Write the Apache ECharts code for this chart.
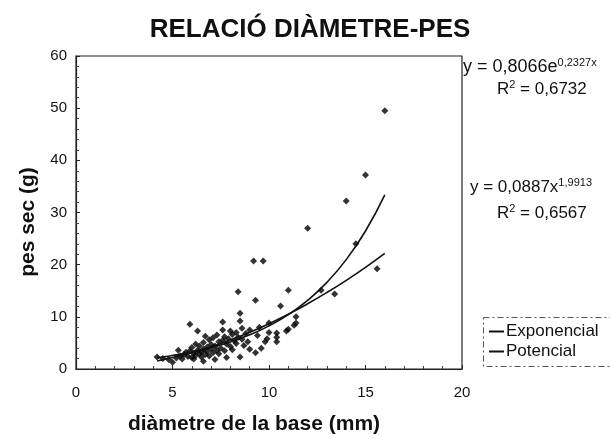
<!DOCTYPE html>
<html>
<head>
<meta charset="utf-8">
<script src="https://cdn.jsdelivr.net/npm/echarts@6/dist/echarts.min.js"></script>
<style>
  html, body { margin: 0; padding: 0; background: #fff; }
  #chart { width: 610px; height: 439px; }
</style>
</head>
<body>
<div id="chart"></div>
<script>
// mesures: [diàmetre (mm), pes sec (g)]
var punts = [
  [4.2,2.3],[4.5,2.0],[4.8,1.8],[5.0,1.3],[5.2,2.1],[5.3,3.6],[5.4,2.5],[5.5,1.9],
  [5.6,2.8],[5.7,3.2],[5.8,2.4],[5.9,8.6],[5.9,3.5],[6.0,2.2],[6.0,4.1],[6.1,3.0],
  [6.1,1.9],[6.2,2.6],[6.2,4.8],[6.3,7.3],[6.3,3.6],[6.4,2.9],[6.4,4.4],[6.5,3.3],
  [6.5,2.3],[6.6,5.1],[6.6,3.8],[6.6,1.5],[6.7,6.3],[6.7,2.8],[6.8,4.2],[6.8,3.4],
  [6.9,5.6],[6.9,2.5],[7.0,4.7],[7.0,3.9],[7.1,3.1],[7.1,6.0],[7.2,4.4],[7.2,1.8],
  [7.3,6.5],[7.3,3.6],[7.4,5.2],[7.4,2.9],[7.5,4.0],[7.6,7.5],[7.6,9.0],[7.6,5.5],
  [7.7,3.5],[7.7,6.2],[7.8,4.8],[7.8,2.2],[7.9,5.8],[8.0,7.3],[8.0,4.3],[8.1,6.6],
  [8.1,3.7],[8.2,5.4],[8.3,7.0],[8.3,4.9],[8.4,14.8],[8.4,6.1],[8.5,10.7],[8.5,9.2],
  [8.5,2.3],[8.6,5.7],[8.6,7.8],[8.7,4.5],[8.8,6.8],[8.9,5.2],[9.0,7.5],[9.0,3.8],
  [9.2,20.7],[9.3,3.1],[9.3,13.2],[9.4,6.4],[9.5,8.0],[9.6,4.0],[9.7,20.7],[9.8,5.2],
  [9.9,5.8],[10.0,8.8],[10.0,7.0],[10.4,6.9],[10.4,6.1],[10.4,5.2],[10.6,12.1],
  [10.9,7.3],[11.0,15.1],[11.0,7.6],[11.3,8.4],[11.4,10.0],[11.4,8.8],[12.0,27.0],
  [12.7,15.1],[13.4,14.4],[14.0,32.2],[14.5,24.0],[15.0,37.2],[15.6,19.2],[16.0,49.5]
];

// línies de tendència (valors de les equacions del gràfic)
var tendX = [4.2, 5, 6, 7, 8, 9, 10, 11, 12, 13, 14, 15, 16];
var tendExp = [2.14, 2.58, 3.26, 4.11, 5.19, 6.55, 8.27, 10.43, 13.16, 16.61, 20.97, 26.46, 33.39];
var tendPot = [1.55, 2.19, 3.14, 4.27, 5.57, 7.05, 8.69, 10.51, 12.50, 14.66, 16.99, 19.49, 22.17];

var xTicks = [0, 5, 10, 15, 20];
var yTicks = [0, 10, 20, 30, 40, 50, 60];

function parells(xs, ys) {
  return xs.map(function (x, i) { return [x, ys[i]]; });
}

var font = 'Liberation Sans, Arial, sans-serif';
var sup = { fontFamily: font, fontSize: 11, fill: '#111', padding: [0, 0, 10, 0] };

var option = {
  animation: false,
  backgroundColor: '#fff',
  title: {
    text: 'RELACIÓ DIÀMETRE-PES',
    left: 305,
    textAlign: 'center',
    top: 12,
    textStyle: { fontFamily: font, fontSize: 26, fontWeight: 'bold', color: '#111' }
  },
  grid: {
    left: 76, right: 148, top: 56, bottom: 70,
    outerBoundsMode: 'none', containLabel: false,
    show: true, borderColor: '#222', borderWidth: 1.2
  },
  xAxis: {
    type: 'value', min: xTicks[0], max: xTicks[xTicks.length - 1], interval: 5,
    axisLine: { show: true, lineStyle: { color: '#222', width: 1.2 } },
    axisTick: { show: true, inside: true, length: 4, lineStyle: { color: '#222' } },
    minorTick: { show: true, splitNumber: 5, length: 3, lineStyle: { color: '#444' } },
    axisLabel: { fontFamily: font, fontSize: 15, color: '#111', margin: 16 },
    splitLine: { show: false }
  },
  yAxis: {
    type: 'value', min: yTicks[0], max: yTicks[yTicks.length - 1], interval: 10,
    axisLine: { show: true, lineStyle: { color: '#222', width: 1.2 } },
    axisTick: { show: true, inside: true, length: 4, lineStyle: { color: '#222' } },
    minorTick: { show: true, splitNumber: 5, length: 3, lineStyle: { color: '#444' } },
    axisLabel: { fontFamily: font, fontSize: 15, color: '#111', margin: 9 },
    splitLine: { show: false }
  },
  legend: {
    left: 484, top: 318, orient: 'vertical', itemGap: 3,
    itemWidth: 15, itemHeight: 2,
    textStyle: { fontFamily: font, fontSize: 17, color: '#111', padding: [0, 0, 0, -3] },
    data: [
      { name: 'Exponencial', icon: 'rect', itemStyle: { color: '#111' } },
      { name: 'Potencial', icon: 'rect', itemStyle: { color: '#111' } }
    ]
  },
  graphic: [
    {
      type: 'text', x: 28, y: 222, rotation: Math.PI / 2,
      style: {
        text: 'pes sec (g)', align: 'center', verticalAlign: 'middle',
        fontFamily: font, fontSize: 21, fontWeight: 'bold', fill: '#111'
      }
    },
    {
      type: 'text', x: 254, y: 424,
      style: {
        text: 'diàmetre de la base (mm)', align: 'center', verticalAlign: 'middle',
        fontFamily: font, fontSize: 21, fontWeight: 'bold', fill: '#111'
      }
    },
    {
      type: 'rect', left: 481, top: 315,
      shape: { width: 127, height: 49 },
      style: { fill: 'none', stroke: '#555', lineWidth: 1, lineDash: [6, 3, 2, 3] }
    },
    {
      type: 'text', left: 463, top: 57,
      style: {
        text: '{b|y = 0,8066e}{s|0,2327x}',
        rich: { b: { fontFamily: font, fontSize: 18, fill: '#111' }, s: sup }
      }
    },
    {
      type: 'text', left: 497, top: 79,
      style: {
        text: '{b|R}{s|2}{b| = 0,6732}',
        rich: { b: { fontFamily: font, fontSize: 17, fill: '#111' }, s: sup }
      }
    },
    {
      type: 'text', left: 470, top: 177,
      style: {
        text: '{b|y = 0,0887x}{s|1,9913}',
        rich: { b: { fontFamily: font, fontSize: 17, fill: '#111' }, s: sup }
      }
    },
    {
      type: 'text', left: 497, top: 203,
      style: {
        text: '{b|R}{s|2}{b| = 0,6567}',
        rich: { b: { fontFamily: font, fontSize: 17, fill: '#111' }, s: sup }
      }
    }
  ],
  series: [
    {
      name: 'Mesures',
      type: 'scatter',
      symbol: 'diamond',
      symbolSize: 7,
      itemStyle: { color: '#000' },
      data: punts,
      z: 3
    },
    {
      name: 'Exponencial',
      type: 'line',
      smooth: true,
      showSymbol: false,
      lineStyle: { color: '#111', width: 1.6 },
      itemStyle: { color: '#111' },
      data: parells(tendX, tendExp),
      z: 4
    },
    {
      name: 'Potencial',
      type: 'line',
      smooth: true,
      showSymbol: false,
      lineStyle: { color: '#111', width: 1.6 },
      itemStyle: { color: '#111' },
      data: parells(tendX, tendPot),
      z: 4
    }
  ]
};

var chart = echarts.init(document.getElementById('chart'));
chart.setOption(option);
</script>
</body>
</html>
